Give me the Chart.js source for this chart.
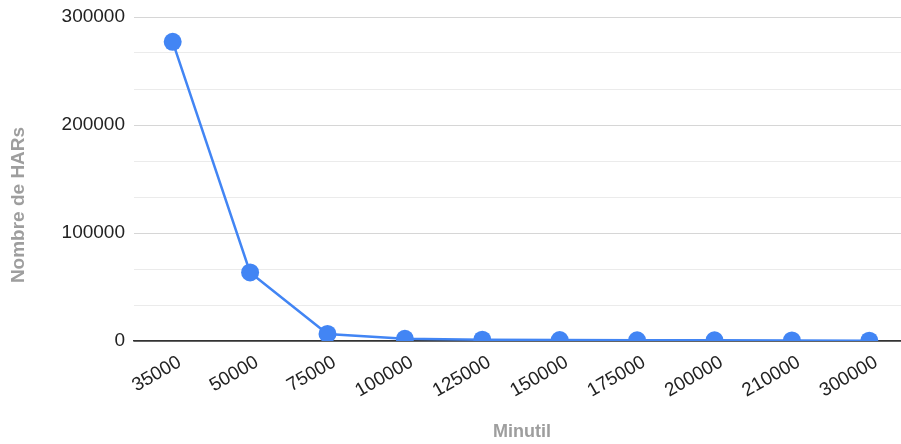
<!DOCTYPE html>
<html>
<head>
<meta charset="utf-8">
<script src="https://cdn.jsdelivr.net/npm/chart.js@4"></script>
<style>
  html, body { margin: 0; padding: 0; background: #fff; overflow: hidden; }
  #wrap { width: 901px; height: 444px; }
</style>
</head>
<body>
<div id="wrap"><canvas id="c" width="901" height="444"></canvas></div>
<script>
// Minutil thresholds and number of HARs kept at each
const categories = ['35000', '50000', '75000', '100000', '125000', '150000', '175000', '200000', '210000', '300000'];
const harCounts = [277000, 63500, 6500, 2000, 1200, 900, 700, 600, 500, 300];
const yTickLabels = [0, 100000, 200000, 300000];
const xTitle = 'Minutil';
const yTitle = 'Nombre de HARs';

const FONT = 'Arial, "Liberation Sans", sans-serif';
const yMax = yTickLabels[yTickLabels.length - 1];
const minorPerMajor = 3;
const PLOT_RIGHT = 908; // plot area runs slightly past the canvas edge

// Stretch the plot area past the right edge of the canvas
const widePlot = {
  id: 'widePlot',
  afterLayout(chart) {
    chart.chartArea.right = PLOT_RIGHT;
    chart.chartArea.width = PLOT_RIGHT - chart.chartArea.left;
    const x = chart.scales.x;
    x.right = PLOT_RIGHT;
    x.width = PLOT_RIGHT - x.left;
    x.configure();
    const y = chart.scales.y;
    y.configure();
  }
};

// Axis titles placed at fixed spots around the plot
const axisTitles = {
  id: 'axisTitles',
  afterDraw(chart) {
    const ctx = chart.ctx;
    ctx.save();
    ctx.fillStyle = '#9e9e9e';
    ctx.textAlign = 'center';
    ctx.textBaseline = 'middle';
    ctx.font = 'bold 18px ' + FONT;
    ctx.fillText(xTitle, 522, 432);
    ctx.font = 'bold 19px ' + FONT;
    ctx.translate(19, 205);
    ctx.rotate(-Math.PI / 2);
    ctx.fillText(yTitle, 0, 0);
    ctx.restore();
  }
};

new Chart(document.getElementById('c'), {
  type: 'line',
  data: {
    labels: categories,
    datasets: [{
      data: harCounts,
      borderColor: '#4285f4',
      backgroundColor: '#4285f4',
      borderWidth: 2.5,
      pointRadius: 9,
      pointHoverRadius: 9,
      pointBorderWidth: 0,
      tension: 0,
      clip: 0
    }]
  },
  options: {
    responsive: false,
    animation: false,
    devicePixelRatio: 1,
    layout: { padding: { top: 17, right: 0, left: 0, bottom: 0 } },
    plugins: { legend: { display: false }, tooltip: { enabled: false } },
    scales: {
      x: {
        type: 'category',
        offset: true,
        afterFit(s) {
          s.height = 103;
          s.paddingLeft = 0;
          s.paddingRight = 0;
        },
        grid: { display: false, drawTicks: false },
        border: { display: true, color: '#333333', width: 1.5 },
        ticks: {
          color: '#222222',
          font: { family: FONT, size: 19 },
          minRotation: 30,
          maxRotation: 30,
          padding: 10,
          labelOffset: 7,
          autoSkip: false
        }
      },
      y: {
        min: 0,
        max: yMax,
        afterFit(s) {
          s.width = 134;
          s.paddingTop = 0;
          s.paddingBottom = 0;
        },
        afterBuildTicks(s) {
          const step = (yTickLabels[1] - yTickLabels[0]) / minorPerMajor;
          const ticks = [];
          for (let i = 0; i <= (yTickLabels.length - 1) * minorPerMajor; i++) {
            ticks.push({ value: i * step, major: i % minorPerMajor === 0 });
          }
          s.ticks = ticks;
        },
        border: { display: false },
        grid: {
          drawTicks: false,
          color(c) {
            if (!c.tick) return '#e0e0e0';
            if (c.tick.value === 0) return '#333333';
            return c.tick.major ? '#d6d6d6' : '#ebebeb';
          },
          lineWidth(c) { return c.tick && c.tick.value === 0 ? 1.5 : 1; }
        },
        ticks: {
          color: '#222222',
          font: { family: FONT, size: 19 },
          padding: 9,
          callback(v, i, ticks) {
            return ticks[i].major ? String(Math.round(v)) : '';
          }
        }
      }
    }
  },
  plugins: [widePlot, axisTitles]
});
</script>
</body>
</html>
